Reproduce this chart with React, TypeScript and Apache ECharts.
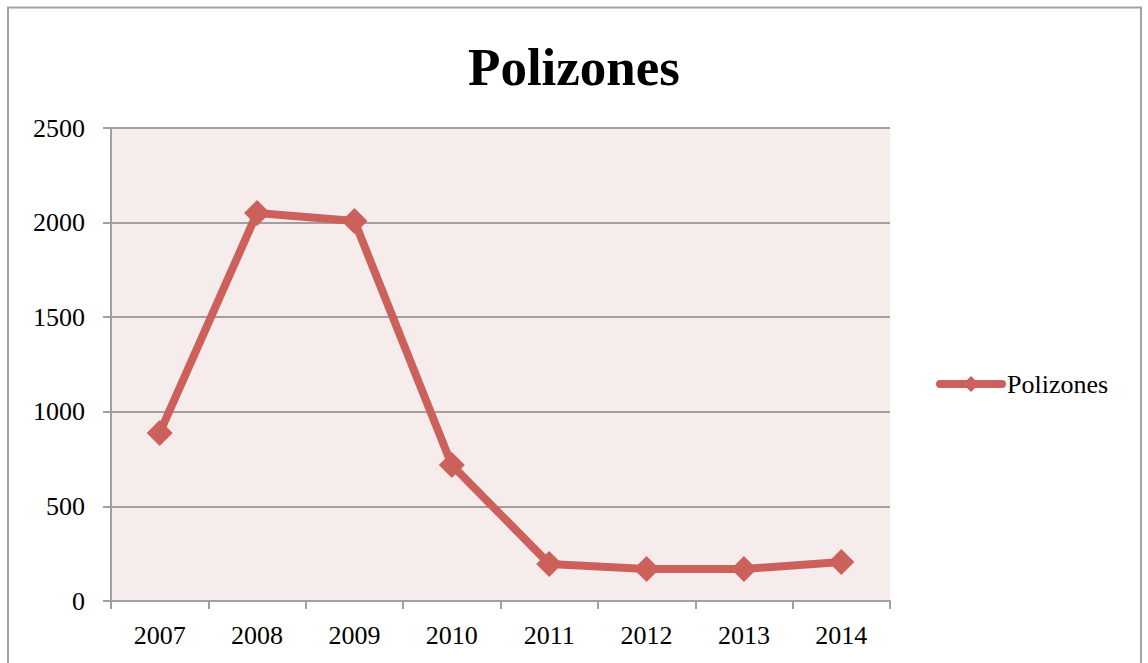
import React, { useEffect, useRef } from "react";
import * as echarts from "echarts";

const categories = ["2007", "2008", "2009", "2010", "2011", "2012", "2013", "2014"];
const polizones = [888, 2051, 2008, 719, 196, 169, 169, 206];
const seriesName = "Polizones";
const titleText = "Polizones";

export default function App() {
  const ref = useRef<HTMLDivElement>(null);
  useEffect(() => {
    if (!ref.current) return;
    const chart = echarts.init(ref.current, undefined, { renderer: "svg" });
    const font = "'Liberation Serif', serif";
    chart.setOption({
      animation: false,
      backgroundColor: "#ffffff",
      textStyle: { fontFamily: font },
      title: {
        text: titleText,
        left: "center",
        top: 35,
        textStyle: { fontFamily: font, fontSize: 53, fontWeight: "bold", color: "#000" },
      },
      graphic: [
        {
          type: "rect",
          shape: { x: 8, y: 7.5, width: 1133, height: 700 },
          style: { fill: "none", stroke: "#a3a3a3", lineWidth: 2 },
          silent: true,
        },
      ],
      legend: {
        orient: "vertical",
        left: 931,
        top: 366,
        itemWidth: 62,
        itemHeight: 20,
        textStyle: { fontFamily: font, fontSize: 26, color: "#000" },
        lineStyle: { width: 8, color: "#cc605a", cap: "round" },
        itemStyle: { color: "#cc605a" },
        data: [seriesName],
      },
      grid: {
        left: 111,
        right: 258,
        top: 128,
        bottom: 62,
        show: true,
        backgroundColor: "#f6eceb",
        borderWidth: 0,
      },
      xAxis: {
        type: "category",
        data: categories,
        boundaryGap: true,
        axisLine: { show: true, lineStyle: { color: "#a0a0a0", width: 2 } },
        axisTick: { show: true, length: 8, lineStyle: { color: "#a0a0a0", width: 2 } },
        axisLabel: { fontFamily: font, fontSize: 26, color: "#000", margin: 21 },
        splitLine: { show: false },
      },
      yAxis: {
        type: "value",
        min: 0,
        max: 2500,
        interval: 500,
        axisLine: { show: true, lineStyle: { color: "#a0a0a0", width: 2 } },
        axisTick: { show: true, length: 8, lineStyle: { color: "#a0a0a0", width: 2 } },
        axisLabel: {
          fontFamily: font,
          fontSize: 26,
          color: "#000",
          margin: 26,
          formatter: (v: number) => String(v),
        },
        splitLine: { show: true, lineStyle: { color: "#a0a0a0", width: 2 } },
      },
      series: [
        {
          name: seriesName,
          type: "line",
          data: polizones,
          symbol: "diamond",
          symbolSize: 26,
          lineStyle: { color: "#cc605a", width: 8 },
          itemStyle: { color: "#cc605a" },
        },
      ],
    });
    return () => chart.dispose();
  }, []);
  return (
    <div
      ref={ref}
      style={{ position: "absolute", left: 0, top: 0, width: 1148, height: 663 }}
    />
  );
}
